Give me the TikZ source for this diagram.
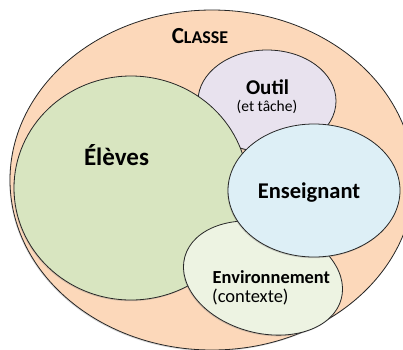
\documentclass[tikz,border=0pt]{standalone}
\usepackage{fontspec}
\setmainfont{Carlito}
\usetikzlibrary{shapes.geometric,shadows}
\definecolor{classefill}{HTML}{FCD8BA}
\definecolor{elevesfill}{HTML}{D8E5C0}
\definecolor{outilfill}{HTML}{E8E2EE}
\definecolor{ensfill}{HTML}{DDEFF6}
\definecolor{envfill}{HTML}{EDF3E2}
\begin{document}
\begin{tikzpicture}[x=1pt,y=-1pt,
  blob/.style={ellipse, draw=black!85, line width=0.8pt, inner sep=0pt,
    drop shadow={shadow xshift=-0.7pt, shadow yshift=-1.2pt, opacity=0.3}},
  lbl/.style={anchor=base, inner sep=0pt, text=black},
  bigb/.style={font=\bfseries\fontsize{#1}{#1}\selectfont},
  reg/.style={font=\fontsize{#1}{#1}\selectfont}]
\useasboundingbox (0,0) rectangle (403,349);
\clip (0,0) rectangle (403,349);
\fill[white] (0,0) rectangle (403,349);
% ellipses
\node[blob, fill=classefill, minimum width=404pt, minimum height=340pt] (classe) at (212,180) {};
\node[blob, fill=outilfill, minimum width=138pt, minimum height=102pt] (outil) at (267,101) {};
\node[blob, fill=elevesfill, minimum width=234pt, minimum height=224pt] (eleves) at (131,188) {};
\node[blob, fill=envfill, minimum width=162pt, minimum height=110pt, rotate=-15] (env) at (263,278) {};
\node[blob, fill=ensfill, minimum width=172pt, minimum height=133pt] (ens) at (314,190.5) {};
% labels
\node[lbl, font=\bfseries] (tclasse) at (200,43) {{\fontsize{23}{23}\selectfont C}{\fontsize{18}{18}\selectfont LASSE}};
\node[lbl, bigb=25] (televes) at (116.5,165) {Élèves};
\node[lbl, bigb=21] (toutil) at (267.5,94) {Outil};
\node[lbl, reg=15.5] (ttache) at (267,111) {(et tâche)};
\node[lbl, bigb=22.5] (tens) at (309,198) {Enseignant};
\node[lbl, anchor=base west, bigb=18.4] (tenv) at (212.5,283) {Environnement};
\node[lbl, anchor=base west, reg=18.5] (tctx) at (212,302) {(contexte)};
\end{tikzpicture}
\end{document}
